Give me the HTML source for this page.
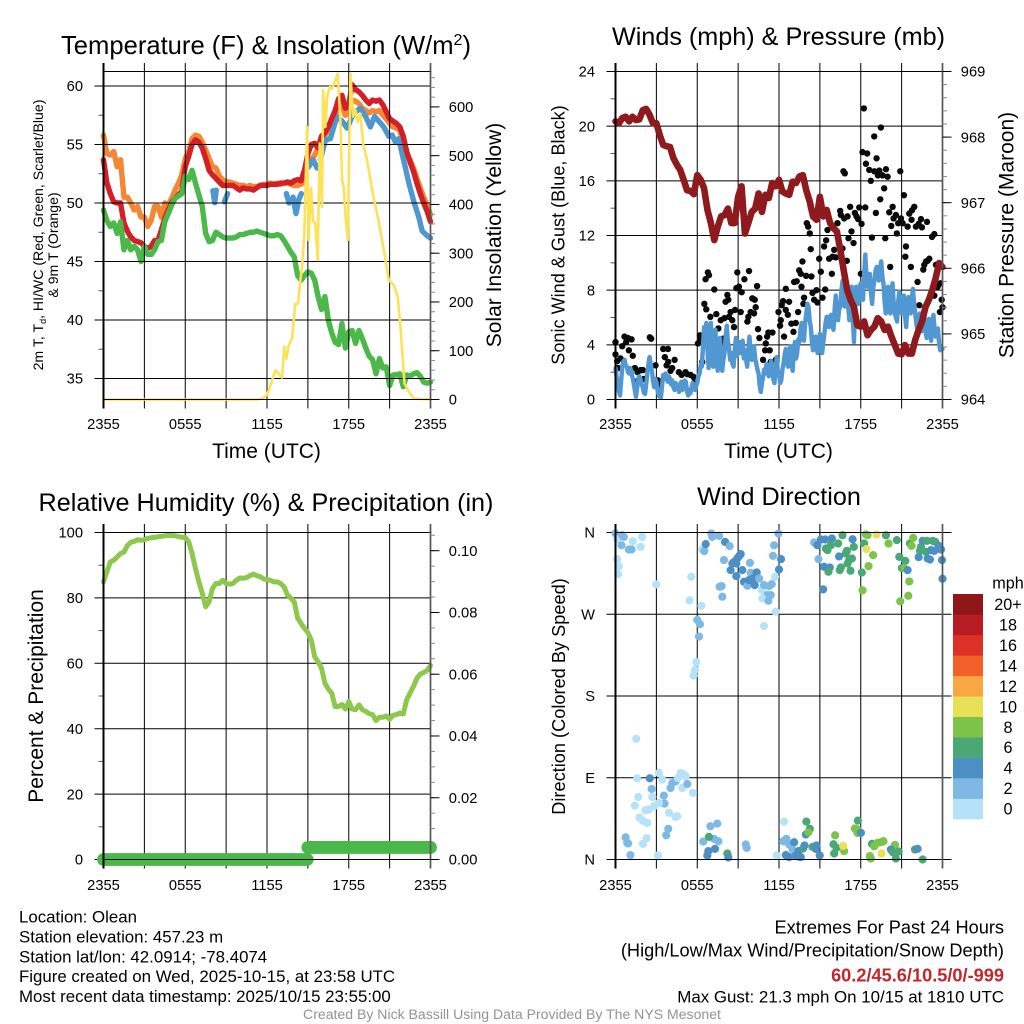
<!DOCTYPE html>
<html lang="en">
<head>
<meta charset="utf-8">
<title>Olean Station Meteogram</title>
<style>
html,body{margin:0;padding:0;background:#fff;width:1024px;height:1024px;overflow:hidden}
svg{display:block}
text{font-family:"Liberation Sans",sans-serif;fill:#000}
.title{font-size:25.2px;text-anchor:middle}
.axt{font-size:21px;text-anchor:middle}
.foot{font-size:16.85px}
.footr{font-size:18.2px;text-anchor:end}
</style>
</head>
<body>
<svg id="chart" xmlns="http://www.w3.org/2000/svg" width="1024" height="1024" viewBox="0 0 1024 1024">
<rect x="0" y="0" width="1024" height="1024" fill="#fff"/>

<g id="p1"></g>
<g id="p2"></g>
<g id="p3"></g>
<g id="p4"></g>

<text class="title" x="266" y="54" style="font-size:25.6px">Temperature (F) &amp; Insolation (W/m<tspan font-size="16" dy="-9">2</tspan><tspan dy="9">)</tspan></text>
<text class="title" x="778.5" y="45">Winds (mph) &amp; Pressure (mb)</text>
<text class="title" x="266" y="511">Relative Humidity (%) &amp; Precipitation (in)</text>
<text class="title" x="779" y="505">Wind Direction</text>

<text class="axt" x="266.5" y="458">Time (UTC)</text>
<text class="axt" x="778.5" y="458">Time (UTC)</text>

<text transform="translate(43,235) rotate(-90)" text-anchor="middle" font-size="14.1">2m T, T<tspan font-size="9" dy="3">d</tspan><tspan dy="-3">, HI/WC (Red, Green, Scarlet/Blue)</tspan></text>
<text transform="translate(58,245) rotate(-90)" text-anchor="middle" font-size="14.1">&amp; 9m T (Orange)</text>
<text class="axt" transform="translate(501,235) rotate(-90)">Solar Insolation (Yellow)</text>
<text transform="translate(564.7,235) rotate(-90)" text-anchor="middle" font-size="18.1">Sonic Wind &amp; Gust (Blue, Black)</text>
<text class="axt" transform="translate(1013.5,235) rotate(-90)">Station Pressure (Maroon)</text>
<text class="axt" transform="translate(43,696) rotate(-90)">Percent &amp; Precipitation</text>
<text transform="translate(565,696.5) rotate(-90)" text-anchor="middle" font-size="18.2">Direction (Colored By Speed)</text>

<g>
<text class="foot" x="19" y="922.5">Location: Olean</text>
<text class="foot" x="19" y="942.5">Station elevation: 457.23 m</text>
<text class="foot" x="19" y="962.5">Station lat/lon: 42.0914; -78.4074</text>
<text class="foot" x="19" y="982">Figure created on Wed, 2025-10-15, at 23:58 UTC</text>
<text class="foot" x="19" y="1002">Most recent data timestamp: 2025/10/15 23:55:00</text>
</g>
<g>
<text class="footr" x="1004" y="933.5">Extremes For Past 24 Hours</text>
<text class="footr" x="1004" y="956.5">(High/Low/Max Wind/Precipitation/Snow Depth)</text>
<text class="footr" x="1004" y="981.5" font-weight="bold" style="fill:#c1272d">60.2/45.6/10.5/0/-999</text>
<text class="footr" x="1004" y="1002.5" style="font-size:16.9px">Max Gust: 21.3 mph On 10/15 at 1810 UTC</text>
</g>
<text x="512" y="1019" text-anchor="middle" font-size="14.07" style="fill:#939393">Created By Nick Bassill Using Data Provided By The NYS Mesonet</text>
</svg>

<script>
/* ---------- shared axis data ---------- */
const timeTickHours = [0,3,6,9,12,15,18,21,24];
const timeLabelHours = [0,6,12,18,24];
const timeLabels = ["2355","0555","1155","1755","2355"];
const tempTicks = [35,40,45,50,55,60];
const insolTicks = [0,100,200,300,400,500,600];
const windTicks = [0,4,8,12,16,20,24];
const pressureTicks = [964,965,966,967,968,969];
const rhTicks = [0,20,40,60,80,100];
const precipTicks = [0,0.02,0.04,0.06,0.08,0.10];
const dirTicks = [0,90,180,270,360];
const dirLabels = ["N","E","S","W","N"];

/* ---------- temperature panel: 15-minute samples, 2355 to 2355 UTC ---------- */
const tempRed = [53.7,51.7,50.8,50.1,50,50,48.3,47.6,47.1,46.8,46.7,46.6,46.3,46.1,46.3,46.8,46.8,47.7,48.7,49.4,50,50.4,50.7,51,53.1,54,55,55.4,55.2,54.7,53.8,52.8,52.4,52.1,51.8,51.5,51.5,51.5,51.5,51.3,51.1,51.3,51.2,51.2,51.1,51.3,51.5,51.5,51.5,51.6,51.6,51.6,51.7,51.7,51.8,51.7,51.9,52,51.9,52.8,54.2,55,55.1,54.7,55.7,56,56.5,57.2,57.9,58.9,59.2,58.1,58.4,60.1,59.7,59.5,59.2,58.8,58.5,58.8,58.7,58.8,58.4,57.8,57.2,57,56.8,56.5,55.7,54.4,53.5,52.7,51.7,50.8,50,49.3,48.4];
const tempOrange = [55.8,54.2,54.1,54.4,53.1,53.7,50.5,50.5,50,49.4,49.7,48.8,48.8,48,48.5,49.7,49.7,48.8,50,49.8,50.4,51.1,51.7,52.4,53.8,54.4,55.5,55.8,55.7,55.2,54.5,53.8,53.1,53,52.3,52,51.8,51.8,51.7,51.6,51.5,51.5,51.4,51.5,51.4,51.4,51.5,51.6,51.6,51.7,51.6,51.7,51.6,51.7,51.7,51.6,51.5,51.5,51.6,51.8,53.4,53.7,54.1,54.7,55.4,55.8,56.2,56.8,57.4,58.1,58.4,57.5,57.7,58.8,58.7,58.5,58.1,57.9,57.7,57.9,57.8,57.9,57.5,57.2,56.8,56.5,56.4,56.2,55.1,54.2,53.7,53,52.1,51.3,50.5,49.8,49];
const tempGreen = [49.4,48.5,48,48.3,47.4,48.4,46,46.8,46,46.3,46,45,46.3,45.6,45.6,46,46.7,46.8,48.4,49.1,49.8,50.4,50.6,50.8,52.3,52,52.8,51.7,50.7,49.7,47.4,46.7,46.8,47.5,47.3,47.1,47,47,47,47.1,47.3,47.3,47.4,47.5,47.5,47.6,47.5,47.4,47.3,47.2,47.2,47.3,47.2,46.8,46.3,45.8,45.4,43.8,43.4,43.8,44.1,44,43.4,42,40.9,42,40,38.9,38.1,37.9,39.7,37.6,39,39.1,38,39.1,38.4,37.6,36.9,36.6,35.4,36.7,35.9,36,34.4,35.3,35.3,35.4,34.3,35.3,35.2,35.4,35.5,35.2,34.7,34.6,34.7];
const hiHours = [8.03,8.16,8.28,null,8.87,9.11,null,13.42,13.62,null,13.91,14.13,14.33,14.52,null,15.06,15.38,15.67,null,15.92,16.29,16.65,16.9,17.14,17.51,17.88,18.25,18.61,18.86,19.23,19.59,19.89,20.2,20.57,20.94,21.19,21.43,21.67,21.92,22.16,22.41,22.78,23.14,23.39,23.76,24];
const hiTemps = [51.05,50.03,51.1,null,50.1,50.8,null,50.8,50,null,50.5,49.1,50.3,50.8,null,53.1,53.7,53,null,53.7,55.4,55.5,56.5,57.4,57,56.4,57.4,57.9,58.1,57.4,56.5,57.4,57,56.5,55.7,55.8,55.2,55.5,54.2,53,51.7,50.1,48.8,47.6,47.2,47];
const insolHours = [0,11.27,11.63,12,12.25,12.61,12.86,13.1,13.27,13.42,13.59,13.84,14.08,14.28,14.45,14.57,14.74,14.94,15.06,15.23,15.38,15.55,15.72,15.87,16.04,16.12,16.29,16.41,16.61,16.78,16.97,17.19,17.39,17.51,17.63,17.76,17.93,18.12,18.32,18.49,18.66,18.86,19.05,19.35,19.72,20.08,20.45,20.94,21.31,21.6,21.8,22.09,22.41,22.78,24];
const insolWm2 = [0,0,2,9,29,60,53,45,108,84,111,125,196,196,245,272,340,559,327,433,367,361,286,525,395,634,559,620,641,638,651,668,573,450,436,375,327,668,580,593,569,586,525,490,429,381,327,245,235,210,148,33,16,2,0];

/* ---------- winds panel ---------- */
const pressureMb = [968.24,968.21,968.29,968.31,968.24,968.31,968.26,968.27,968.41,968.43,968.34,968.21,968.21,968.03,967.88,967.86,967.85,967.68,967.58,967.5,967.35,967.19,967.18,967.13,967.42,967.35,967.22,966.89,966.69,966.43,966.63,966.79,966.81,966.91,966.69,966.69,967.09,967.25,966.53,966.69,966.86,966.91,967.14,966.86,967.12,967.07,967.3,967.25,967.35,967.17,967.14,967.12,967.32,967.3,967.4,967.42,967.19,967.02,966.79,966.74,967.09,966.79,966.89,966.69,966.61,966.56,966.28,965.97,965.67,965.52,965.41,965.13,965.11,965.19,964.98,965.06,965.11,965.24,965.19,965.06,965.11,964.96,964.83,964.7,964.69,964.83,964.7,964.7,964.91,965.06,965.19,965.41,965.52,965.67,965.85,966.08,966.02];
/* 5-minute samples */
const sonicWind = [2.3,1.6,1.2,0.6,0.3,1.4,2.4,2.8,2.9,2.5,
2.4,2.0,1.9,2.3,2.1,1.6,1.2,0.7,0.2,0.8,
1.4,1.7,1.5,1.1,0.9,0.5,0.4,1.1,1.9,2.6,
3.1,2.6,2.1,1.4,0.9,1.5,1.3,0.7,0.3,0.2,
0.15,1.0,1.8,1.5,1.9,1.6,1.3,1.7,1.5,1.1,
1.4,0.9,0.7,1.2,1.05,0.8,0.55,1.1,1.3,0.7,
0.9,1.4,1.3,0.6,0.3,0.7,0.45,0.9,1.2,0.8,
0.7,1.0,1.2,1.7,1.9,2.5,2.4,3.8,5.3,4.2,
5.6,3.6,2.3,4.2,5.6,3.8,2.4,3.9,5.1,3.2,
2.1,3.6,4.5,2.9,2.1,2.9,3.4,4.6,5.4,4.2,
3.7,2.9,3.4,2.6,2.4,3.6,4.5,3.2,3.7,4.2,
3.4,4.0,4.3,3.0,3.6,2.9,2.4,3.7,4.6,3.4,
2.9,3.6,3.9,3.0,2.6,2.2,1.9,1.0,0.55,1.2,
1.65,2.2,1.9,2.6,2.5,1.7,1.9,2.8,2.4,1.5,
1.2,2.4,3.1,2.0,1.9,1.2,1.4,2.2,2.6,3.3,
3.7,2.7,2.4,3.2,3.9,2.8,2.1,3.4,4.2,3.0,
3.4,4.4,4.2,5.2,5.6,4.4,4.3,5.6,6.3,7.0,
6.8,5.8,5.3,4.2,3.6,4.1,4.6,3.8,3.4,4.4,
4.8,3.9,3.4,4.2,4.8,5.6,6.05,5.5,5.3,6.1,
6.2,5.4,5.1,6.6,7.6,6.4,5.8,6.6,6.8,8.0,
8.7,7.6,6.8,7.8,8.25,6.7,5.8,7.4,8.25,6.1,
4.2,6.6,8.25,7.4,7,8.2,8.5,7.6,7.3,9.2,
10.6,9.0,8.25,9.0,9.2,7.8,7,8.2,8.7,9.4,
9.7,9.0,8.7,9.6,10.1,9.0,8.5,7.2,6.3,7.6,
8.25,7.0,6.3,7.8,8.5,7.1,6.3,6.0,5.7,7.2,
7.9,6.8,6.3,7.3,7.6,6.2,5.3,6.8,7.5,6.6,
6.3,7.4,8.1,7.0,6.3,5.5,5.1,5.9,6.3,5.4,
5,5.8,6.05,5.1,4.5,5.4,5.9,4.9,4.3,5.5,
6.2,5.2,4.6,5.0,5.2,4.1,3.6,3.8,3.7];
const gustHours = [0,0,.12,.2,.37,.49,.66,.78,.91,1.18,
.98,1.27,1.42,1.62,1.84,2.01,2.08,1.67,2.52,2.62,
2.94,3.11,3.31,3.5,3.85,3.62,3.87,3.75,4.34,4.16,
4.04,4.65,4.85,5.14,5.27,5.51,5.73,5.76,6.05,6.2,
6.25,6.37,6.52,6.66,6.61,6.78,6.86,6.96,7.1,7.25,
7.4,7.55,7.72,7.64,7.79,7.89,7.99,8.08,8.21,8.28,
8.33,8.45,8.57,8.7,8.77,8.94,8.87,9.06,9.19,9.26,
9.46,9.68,9.75,9.8,9.92,10.04,10.17,10.22,10.29,10.39,
10.46,10.56,10.83,11.03,11.13,10.98,11.32,11.22,11.52,11.39,
11.76,11.96,12.13,12.2,12.3,12.5,12.08,12.37,12.5,12.65,
12.74,12.91,13.06,13.23,13.4,13.11,13.3,13.48,13.6,13.65,
13.72,13.79,13.84,13.99,14.04,14.14,14.26,14.33,14.38,14.46,
14.58,14.75,14.82,14.95,15.07,15.19,15.31,15.46,15.56,15.39,
15.68,15.88,15.93,16.05,16.17,16.29,16.34,16.49,16.54,16.66,
16.78,17.03,16.98,17.1,17.22,17.32,17.47,17.57,17.69,17.81,
17.89,18.06,18.01,16.73,16.83,18.23,18.13,18.33,18.47,18.38,
18.62,18.74,18.99,19.11,19.16,18.99,19.26,19.36,19.43,19.48,
19.6,19.72,19.85,19.97,18.82,19.8,20.09,20.16,20.34,20.24,
20.41,20.58,20.65,20.75,20.9,20.95,21.07,21.17,21.27,21.32,
21.44,21.56,21.68,21.76,21.93,21.73,22.05,22.17,22.25,22.42,
22.49,22.86,22.59,22.79,22.66,23.03,22.91,23.23,23.4,23.52,
22.3,23.64,23.84,23.94,23.81,24,23.4];
const gustMph = [4.2,3.3,2.8,2.3,3,3.9,4.6,4.2,4.5,4.4,
3.6,3.2,2.3,2,2.15,2.15,1.5,1.4,4.55,4.45,
2.5,1.4,1.05,3.7,3.7,3.1,2.75,2.5,2.9,2.3,
2.1,2,1.8,2,1.85,1.8,1.65,1.2,4.1,4.7,
4.4,2.75,7,6.6,8.8,9.3,9.1,6.05,4.95,8.05,
6.25,5.2,5.8,3.6,4.15,4.45,5.95,7.15,7.65,7.3,
6.05,6.4,5.8,5.3,6.55,9.3,8.15,8.25,6.4,7.85,
8.8,5.7,6.05,9.4,6.4,7.4,6.3,7.3,6.75,8.3,
5.15,4.5,2.9,4.1,4.6,3.6,3.6,4.9,4.9,2.75,
2.9,6.4,5.8,6.9,7.2,8.1,5.4,4.6,6.55,6.2,
7.15,5.55,4.95,5.6,6.4,8.6,8.65,9.45,9.2,8.25,
10.1,7,7.45,9.05,12.9,12.65,12.15,11,9,7.8,
7.3,8,7.1,10.3,9.35,7.45,11.2,11.65,12.4,8.05,
10.3,9.2,10.45,10.95,10.4,12.9,11.8,13.8,13.5,11.05,
13.25,13.4,10.15,11.8,14.1,12.3,11.45,13.65,13.4,13.2,
14.05,12.85,9.2,16.7,16.55,21.3,18.1,14.05,18,17.25,
16.8,16,19.25,13.65,17.65,16.7,16.4,16.75,14.65,19.9,
16.4,15.45,16.85,16.3,11.85,11.8,13.7,9.7,14.1,12.7,
13.25,13.5,12.15,12.9,16.7,13.25,12.9,14.95,10.45,11.2,
12.65,13.6,9.7,13.85,14.1,13.15,12.65,8.6,12.85,13.2,
12.6,13,9.5,10.1,9.85,10.3,10.15,11.9,12.1,9.85,
6.9,8.25,8.5,7.3,6.4,6.75,7.6];

/* ---------- humidity panel ---------- */
const relHumidity = [84.9,88,91,91.5,92.5,93.6,94,96,97,97.3,97.8,97.6,97.8,98.2,98.4,98.5,98.7,98.8,99,99.1,99.1,99,98.8,98.5,98.5,97.2,93.6,89,84.9,81.4,77.3,78.8,82.9,84.4,84.4,85.4,84.4,84.2,84.4,85.4,86.1,86,86.2,86.8,87.3,86.8,86.5,85.8,85.6,85.4,84.9,84.9,84.4,83.4,80.9,79.9,78.8,73.8,72.2,70.7,69.4,67.1,62,60.5,58.5,53.9,52.1,50.9,46.8,46.8,47.4,46,48.3,46,45.8,47.3,45.8,45.3,44.6,44.3,42.5,43.5,43.5,43.9,42.9,44.1,44.3,44.8,44.5,48.8,50.9,52.9,55.4,56.7,57.2,57.8,59.3];
const precipHours = [0,14.95,15,24];
const precipInches = [0,0,0.0039,0.0039];

/* ---------- wind direction panel ---------- */
const dirHours = [0,.12,.49,.61,.44,.98,1.18,1.27,1.84,1.96,
.12,.25,.2,2.99,5.56,5.44,6.3,6.37,6.52,6.62,
7.03,7.1,7.6,8.04,8.38,7.96,7.84,7.79,7.64,8.87,
8.45,8.58,8.7,8.94,9.07,9.19,8.87,9.31,9.87,9.92,
10.36,9.43,9.68,9.8,10.09,10.22,10.54,10.73,10.9,11.27,
11.47,11.15,11.39,10.78,11.22,11.76,10.9,11.71,12,12.15,
11.56,11.64,11.96,14.58,14.82,15.07,15.39,15.88,14.9,15.31,
15.73,15.24,15.56,15.44,15.8,16.34,16.66,15.63,16.54,16.46,
16.98,16.9,16.41,17.4,17.49,17.35,17.15,17.03,17.25,18.25,
18.08,18.13,18.38,18.5,19.16,18.42,18.91,18.57,19.85,20.04,
20.65,20.83,21.27,21.02,21.19,21.44,21.56,21.49,20.9,21.61,
21.73,21.85,22.42,22.34,22.79,22.54,22.86,23.28,23.47,23.15,
23.4,23.72,23.89,22.25,22.91,23.08,23.96,24,6,6.2,
6.13,5.93,5.83,5.73,1.52,1.59,2.52,3.19,3.43,2.65,
1.67,1.42,3.55,3.6,3.19,2.7,2.82,2.2,2.45,4.04,
4.17,4.41,4.78,5.02,5.15,4.58,4.9,5.27,5.68,3.92,
4.41,4.53,1.76,2.01,2.33,3.87,3.72,2.28,2.01,.74,
.86,.93,1.1,3.11,6.44,6.96,7.47,7.23,7.55,6.86,
6.81,7.3,6.74,8.21,8.28,9.56,9.63,12.37,12.3,12.54,
12.74,12.99,11.83,12.5,12.74,13.11,13.23,13.43,13.6,13.48,
13.77,13.97,14.01,14.26,14.16,13.87,14.46,14.75,14.7,14.99,
16,16.12,16.22,16.05,16.78,16.71,17.79,17.57,17.76,17.76,
18.01,18.82,18.67,18.74,18.99,19.23,19.48,19.67,19.53,20.51,
20.21,20.34,20.58,20.78,21.98,22.17,22.54];
const dirDegrees = [358.9,352.3,357,355.2,346,341.3,341.3,350.4,344.2,355.2,
330.7,323,314.2,302.8,311.3,285.3,279.4,341.3,339.5,347.2,
358.9,355.2,356.3,349.7,345,329.6,289.3,301,300.3,312,
318.6,325.9,327.7,331.4,334,336.2,325.9,318.6,326.6,315.7,
316,305.8,301.4,307.6,309.4,302.1,309.4,296.6,302.1,301,
303.2,291.1,291.1,287.5,284.9,272.8,257.1,311.3,319.3,330.7,
334.3,346,358.9,349,346,352.3,352.3,353.4,330.7,322.3,
321.5,297.4,340.6,342.4,346,347.9,357,316.8,321.5,318.6,
339.8,336.9,333.6,352.6,344.2,331.4,329.6,325.9,317.9,347.9,
316,296.3,357.8,357,357.8,341.7,335.1,323,357,347.9,
351.6,333.2,328.8,320.8,320.8,318.6,306.1,290.4,284.2,347.9,
345.3,354.1,344.2,339.8,338.7,350.8,350.8,350.8,349.7,340.6,
339.8,345.3,341.3,332.9,331.4,330.3,329.6,309.1,263.7,258.9,
245.4,217.2,208.7,202.5,132.9,89.4,89.4,95.2,87.9,77.6,
68.8,59.3,70.3,61.5,62.3,68.8,58.6,54.2,54.9,78.7,
84.2,86.1,95.2,93.4,91.6,89.7,78.7,83.1,73.2,51.3,
46.9,47.6,46.1,42.5,40.3,33.7,26.7,23.4,17.2,24.5,
18.3,17.6,4.8,4.4,19.8,36.6,39.5,22.7,20.1,24.9,
9.2,11.7,4.4,6.6,2.2,16.5,12.8,41.7,20.1,22.7,
16.5,11,4.4,4.8,2.6,19,4.4,9.2,2.6,2.9,
12.1,27.5,41.7,33.7,30,15.4,13.9,15.4,11.7,4.4,
16.8,26.7,12.8,6.6,9.2,15,42.8,34.1,33,29.3,
29.3,17.2,3.7,1.1,14.6,18.3,19,20.1,6.6,16.1,
11,8.1,1.1,8.8,11,11.7,0];
const dirSpeed = [3,1,3,3,3,3,3,1,1,1,
1,1,1,1,1,1,1,1,3,5,
3,3,3,5,3,3,3,3,3,5,
5,5,5,5,5,5,5,5,3,3,
5,5,3,5,5,5,3,1,3,3,
3,3,3,1,3,1,1,1,5,5,
3,3,3,3,5,5,5,5,3,5,
5,5,7,7,7,7,7,7,7,7,
7,7,5,5,7,7,7,7,7,7,
7,9,9,9,11,11,9,9,7,9,
7,7,7,7,9,5,9,9,9,7,
9,9,7,7,7,5,7,7,7,5,
5,5,5,5,5,5,5,5,3,3,
3,1,1,1,1,1,5,1,1,3,
1,1,3,3,1,1,1,1,1,3,
3,3,1,1,1,1,1,3,1,1,
1,1,1,1,1,3,3,1,1,3,
3,3,3,1,3,3,3,3,3,7,
5,5,5,7,5,3,3,1,3,3,
3,3,1,5,5,5,5,5,5,5,
7,5,7,7,9,5,7,5,5,5,
7,9,7,7,9,11,7,9,9,9,
5,7,9,9,9,9,9,9,11,9,
5,7,7,7,7,5,7];
const speedBinColors = ["#b5e2f9","#7eb9e5","#4b8fc4","#4aa874","#7cc34a","#e8e057","#f9a742","#f26128","#dd3128","#b71c23","#8f1619"];
const speedBinLabels = ["0","2","4","6","8","10","12","14","16","18","20+"];

/* ---------- drawing helpers ---------- */
const SVGNS = "http://www.w3.org/2000/svg";
const STEP_MINOR = {temp:2.5, insol:20, wind:2, press:0.2, rh:10, precip:0.005};

function linear(d0, d1, r0, r1) {
  return function (v) { return r0 + (v - d0) / (d1 - d0) * (r1 - r0); };
}
function node(tag, attrs, parent) {
  const el = document.createElementNS(SVGNS, tag);
  Object.keys(attrs).forEach(function (k) { el.setAttribute(k, attrs[k]); });
  parent.appendChild(el);
  return el;
}
function rule(parent, x1, y1, x2, y2, width, color, name) {
  const el = node("line", {x1:x1, y1:y1, x2:x2, y2:y2, stroke:color, "stroke-width":width}, parent);
  
  
  return el;
}
function label(parent, x, y, str, anchor, size, name) {
  const el = node("text", {x:x, y:y, "text-anchor":anchor, "font-size":size}, parent);
  el.textContent = str;
  
  
  return el;
}
function uniformHours(values) {
  return values.map(function (_, i) { return i * 24 / (values.length - 1); });
}
function pathOf(hours, values, xs, ys) {
  let d = "", pen = false;
  for (let i = 0; i < values.length; i++) {
    if (values[i] === null || hours[i] === null) { pen = false; continue; }
    d += (pen ? "L" : "M") + xs(hours[i]).toFixed(2) + " " + ys(values[i]).toFixed(2);
    pen = true;
  }
  return d;
}
function series(parent, hours, values, xs, ys, color, width, name) {
  const el = node("path", {d:pathOf(hours, values, xs, ys), fill:"none", stroke:color, "stroke-width":width, "stroke-linejoin":"round", "stroke-linecap":"round"}, parent);
  
  
  return el;
}
function timeGrid(parent, xs, top, bottom) {
  timeTickHours.forEach(function (h) {
    rule(parent, xs(h), top - 8.5, xs(h), bottom + 9, 1, "#000", "time-gridline");
  });
}
function timeLabelsRow(parent, xs, y) {
  timeLabelHours.forEach(function (h, i) {
    label(parent, xs(h), y, timeLabels[i], "middle", 14.7, "time-tick-label");
  });
}
function valueGrid(parent, ticks, ys, x0, x1) {
  ticks.forEach(function (v) {
    rule(parent, x0 - 9, ys(v), x1, ys(v), 1, "#000", "value-gridline");
  });
}
function leftLabels(parent, ticks, ys, x0, fmt) {
  ticks.forEach(function (v, i) {
    label(parent, x0 - 20.5, ys(v) + 5.2, fmt(v, i), "end", 14.7, "left-tick-label");
  });
}
function leftMinor(parent, ys, x0, from, to, step) {
  const n = Math.round((to - from) / step);
  for (let i = 0; i <= n; i++) {
    const v = from + i * step;
    rule(parent, x0 - 5, ys(v), x0, ys(v), 1, "#555", "left-minor-tick");
  }
}
function rightAxis(parent, ticks, ys, x1, minorFrom, minorTo, minorStep, fmt) {
  const n = minorStep ? Math.round((minorTo - minorFrom) / minorStep) : -1;
  for (let i = 0; i <= n; i++) {
    const v = minorFrom + i * minorStep;
    rule(parent, x1, ys(v), x1 + 4.5, ys(v), 1, "#888", "right-minor-tick");
  }
  ticks.forEach(function (v) {
    rule(parent, x1, ys(v), x1 + 9, ys(v), 1, "#000", "right-major-tick");
    label(parent, x1 + 18.3, ys(v) + 5.2, fmt(v), "start", 14.7, "right-tick-label");
  });
}
function frame(parent, x0, x1, top, bottom) {
  rule(parent, x0 - 1, top, x1 + 1, top, 1, "#000", "plot-top-edge");
  rule(parent, x0 - 1, bottom, x1 + 1, bottom, 1, "#000", "plot-bottom-edge");
  rule(parent, x0, top - 8.5, x0, bottom + 9, 2, "#000", "plot-left-edge");
  rule(parent, x1, top - 8.5, x1, bottom + 9, 1.7, "#555", "plot-right-edge");
}

/* ---------- panel geometry ---------- */
const leftX0 = 103.5, leftX1 = 430.5, rightX0 = 615.5, rightX1 = 942.5;
const upTop = 71.5, upBottom = 399.5, lowTop = 532.5, lowBottom = 859.5;
const xLeft = linear(0, 24, leftX0, leftX1);
const xRight = linear(0, 24, rightX0, rightX1);

/* panel 1 */
(function () {
  const g = document.getElementById("p1");
  const yT = linear(60, 35, 86, 378.5);
  const yI = linear(0, 600, upBottom, 106.9);
  const h = uniformHours(tempRed);
  series(g, uniformHours(tempOrange), tempOrange, xLeft, yT, "#f58634", 5.4, "nine-metre-temperature-line");
  series(g, hiHours, hiTemps, xLeft, yT, "#4f97cf", 5.4, "heat-index-line");
  series(g, h, tempRed, xLeft, yT, "#d32027", 5.4, "two-metre-temperature-line");
  series(g, uniformHours(tempGreen), tempGreen, xLeft, yT, "#4bb84a", 5.4, "dew-point-line");
  timeGrid(g, xLeft, upTop, upBottom);
  valueGrid(g, tempTicks, yT, leftX0, leftX1);
  leftMinor(g, yT, leftX0, 37.5, 57.5, STEP_MINOR.temp * 2);
  series(g, insolHours, insolWm2, xLeft, yI, "#fde258", 2.6, "solar-insolation-line");
  frame(g, leftX0, leftX1, upTop, upBottom);
  rightAxis(g, insolTicks, yI, leftX1, 0, 660, STEP_MINOR.insol, function (v) { return String(v); });
  leftLabels(g, tempTicks, yT, leftX0, function (v) { return String(v); });
  timeLabelsRow(g, xLeft, 429);
})();

/* panel 2 */
(function () {
  const g = document.getElementById("p2");
  const yW = linear(0, 24, upBottom, upTop);
  const yP = linear(964, 969, upBottom, upTop);
  timeGrid(g, xRight, upTop, upBottom);
  valueGrid(g, windTicks, yW, rightX0, rightX1);
  leftMinor(g, yW, rightX0, 2, 22, STEP_MINOR.wind * 2);
  gustHours.forEach(function (t, i) {
    const dot = node("circle", {cx:xRight(t), cy:yW(gustMph[i]), r:3.2, fill:"#0a0a0a"}, g);
    
    
  });
  series(g, uniformHours(sonicWind), sonicWind, xRight, yW, "#5198d2", 4.4, "sonic-wind-line");
  series(g, uniformHours(pressureMb), pressureMb, xRight, yP, "#8e1a1e", 6.6, "station-pressure-line");
  frame(g, rightX0, rightX1, upTop, upBottom);
  rightAxis(g, pressureTicks, yP, rightX1, 964, 969, STEP_MINOR.press, function (v) { return String(v); });
  leftLabels(g, windTicks, yW, rightX0, function (v) { return String(v); });
  timeLabelsRow(g, xRight, 429);
})();

/* panel 3 */
(function () {
  const g = document.getElementById("p3");
  const yR = linear(0, 100, lowBottom, lowTop);
  const yPr = linear(0, 0.1, lowBottom, 550.7);
  timeGrid(g, xLeft, lowTop, lowBottom);
  valueGrid(g, rhTicks, yR, leftX0, leftX1);
  leftMinor(g, yR, leftX0, 10, 90, STEP_MINOR.rh * 2);
  series(g, uniformHours(relHumidity), relHumidity, xLeft, yR, "#8dc84d", 5, "relative-humidity-line");
  let start = 0;
  for (let i = 1; i <= precipInches.length; i++) {
    if (i === precipInches.length || precipInches[i] !== precipInches[start]) {
      series(g, precipHours.slice(start, i), precipInches.slice(start, i), xLeft, yPr, "#4ab749", 12.8, "precipitation-segment");
      start = i;
    }
  }
  frame(g, leftX0, leftX1, lowTop, lowBottom);
  rightAxis(g, precipTicks, yPr, leftX1, 0, 0.105, STEP_MINOR.precip, function (v) { return v.toFixed(2); });
  leftLabels(g, rhTicks, yR, leftX0, function (v) { return String(v); });
  timeLabelsRow(g, xLeft, 890);
})();

/* panel 4 */
(function () {
  const g = document.getElementById("p4");
  const yD = linear(0, 360, lowBottom, lowTop);
  timeGrid(g, xRight, lowTop, lowBottom);
  valueGrid(g, dirTicks, yD, rightX0, rightX1 + 9);
  dirHours.forEach(function (t, i) {
    const bin = Math.min(speedBinColors.length - 1, Math.floor(dirSpeed[i] / 2));
    const dot = node("circle", {cx:xRight(t), cy:yD(dirDegrees[i]), r:4.1, fill:speedBinColors[bin]}, g);
    
    
  });
  frame(g, rightX0, rightX1, lowTop, lowBottom);
  dirTicks.forEach(function (v, i) {
    label(g, rightX0 - 20.5, yD(v) + 5.2, dirLabels[i], "end", 14.7, "direction-tick-label");
  });
  timeLabelsRow(g, xRight, 890);

  const legendTop = 594, legendHeight = 225, legendX = 953, legendW = 30;
  const cell = legendHeight / speedBinColors.length;
  const legend = node("g", {}, g);
  
  
  speedBinColors.forEach(function (c, i) {
    const row = speedBinColors.length - 1 - i;
    const swatch = node("rect", {x:legendX, y:legendTop + row * cell, width:legendW, height:cell + 0.3, fill:c}, legend);
    
    
    label(legend, 1008, legendTop + row * cell + cell / 2 + 5.8, speedBinLabels[i], "middle", 16.2, "legend-label");
  });
  label(legend, 1008, 588.5, "mph", "middle", 16.2, "legend-unit");
})();
</script>
</body>
</html>
